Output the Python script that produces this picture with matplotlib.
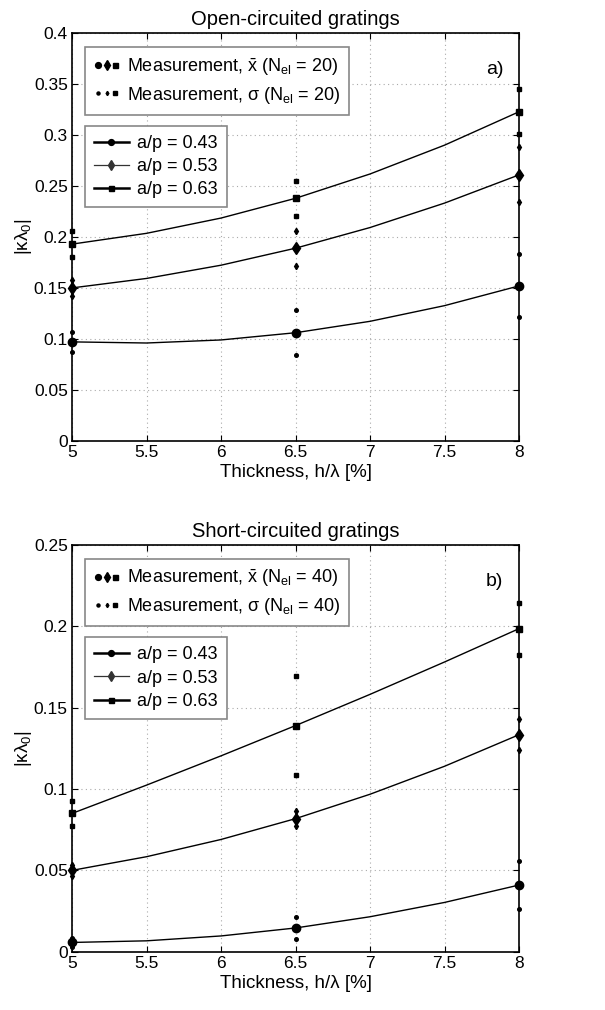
import numpy as np
import matplotlib
matplotlib.use('Agg')
import matplotlib.pyplot as plt
from matplotlib.lines import Line2D
from matplotlib.legend_handler import HandlerTuple
from matplotlib.ticker import FuncFormatter, MultipleLocator

plt.rcParams['font.family'] = ['Liberation Sans', 'DejaVu Sans']
plt.rcParams['mathtext.fontset'] = 'custom'
plt.rcParams['mathtext.rm'] = 'Liberation Sans'
plt.rcParams['mathtext.it'] = 'Liberation Sans:italic'

## Data

thickness = [5, 6.5, 8]          # h/lambda [%]
ratios = ['0.43', '0.53', '0.63']  # a/p

# Open-circuited, mean and sigma of the measurement
open_mean = {'0.43': [0.097, 0.106, 0.152],
             '0.53': [0.150, 0.189, 0.261],
             '0.63': [0.193, 0.238, 0.323]}
open_sigma = {'0.43': [0.010, 0.022, 0.031],
              '0.53': [0.008, 0.017, 0.027],
              '0.63': [0.013, 0.017, 0.022]}

# Short-circuited
short_mean = {'0.43': [0.0057, 0.0146, 0.041],
              '0.53': [0.050, 0.0818, 0.1334],
              '0.63': [0.085, 0.139, 0.1986]}
short_sigma = {'0.43': [0.003, 0.0068, 0.0145],
               '0.53': [0.0035, 0.0045, 0.0097],
               '0.63': [0.0078, 0.0305, 0.016]}

# Simulated curves, read at 0.5 % steps
curve_x = [5, 5.5, 6, 6.5, 7, 7.5, 8]
open_curve = {'0.43': [0.097, 0.0959, 0.0989, 0.106, 0.1172, 0.1326, 0.152],
              '0.53': [0.150, 0.1593, 0.1723, 0.189, 0.2093, 0.2333, 0.261],
              '0.63': [0.193, 0.2036, 0.2186, 0.238, 0.2619, 0.2902, 0.323]}
short_curve = {'0.43': [0.0057, 0.0067, 0.0097, 0.0146, 0.0215, 0.0303, 0.041],
               '0.53': [0.050, 0.0584, 0.069, 0.0818, 0.0968, 0.114, 0.1334],
               '0.63': [0.085, 0.1024, 0.1204, 0.139, 0.1582, 0.1781, 0.1986]}

markers = {'0.43': 'o', '0.53': 'd', '0.63': 's'}
big_size = {'0.43': 6, '0.53': 6.5, '0.63': 5}
small_size = {'0.43': 2.6, '0.53': 3.2, '0.63': 2.4}
leg_size = {'0.43': 4.2, '0.53': 4.8, '0.63': 3.6}
legend_lw = {'0.43': 1.8, '0.53': 0.9, '0.63': 1.8}
legend_col = {'0.43': 'black', '0.53': '#333333', '0.63': 'black'}


def fmt(v, pos):
    return '%g' % round(v, 4)


def panel(ax, means, sigmas, curves, title, ymax, ystep, tag, nel):
    for r in ratios:
        ax.plot(curve_x, curves[r], color='black', lw=1.0, zorder=2)
        m = np.array(means[r])
        s = np.array(sigmas[r])
        ax.plot(thickness, m, ls='none', marker=markers[r], ms=big_size[r],
                color='black', clip_on=False, zorder=4)
        ax.plot(thickness * 2, np.concatenate([m + s, m - s]), ls='none', marker=markers[r],
                ms=small_size[r], color='black', clip_on=False, zorder=4)

    ax.set_xlim(5, 8)
    ax.set_ylim(0, ymax)
    ax.xaxis.set_major_locator(MultipleLocator(0.5))
    ax.yaxis.set_major_locator(MultipleLocator(ystep))
    ax.xaxis.set_major_formatter(FuncFormatter(fmt))
    ax.yaxis.set_major_formatter(FuncFormatter(fmt))
    ax.tick_params(direction='in', top=True, right=True, labelsize=12.5, length=4, pad=3)
    ax.grid(True, ls=(0, (1, 3)), color='#aaaaaa', lw=0.8)
    for sp in ax.spines.values():
        sp.set_linewidth(1.2)
    ax.set_title(title, fontsize=14.5, pad=6)
    ax.set_xlabel('Thickness, h/λ [%]', fontsize=13.5, labelpad=3)
    ax.set_ylabel('|κλ$_0$|', fontsize=13.5, labelpad=0)
    ax.text(0.965, 0.91, tag, transform=ax.transAxes, ha='right', va='center', fontsize=14)

    # measurement legend
    big = tuple(Line2D([], [], ls='none', marker=markers[r], ms=leg_size[r], color='black')
                for r in ratios)
    small = tuple(Line2D([], [], ls='none', marker=markers[r], ms=2.2, color='black')
                  for r in ratios)
    leg1 = ax.legend([big, small],
                     [r'Measurement, $\bar{\mathrm{x}}$ (N$_{\mathrm{el}}$ = %d)' % nel,
                      'Measurement, σ (N$_{\\mathrm{el}}$ = %d)' % nel],
                     handler_map={tuple: HandlerTuple(ndivide=None, pad=0.0)},
                     loc='upper left', bbox_to_anchor=(0.028, 0.966), borderaxespad=0,
                     fontsize=13, handlelength=1.45, handletextpad=0.4, fancybox=False,
                     edgecolor='#888888', framealpha=1, borderpad=0.5, labelspacing=0.38)
    leg1.get_frame().set_linewidth(1.2)
    ax.add_artist(leg1)

    # model legend
    lines = [Line2D([], [], color=legend_col[r], lw=legend_lw[r], marker=markers[r],
                    ms=leg_size[r]) for r in ratios]
    leg2 = ax.legend(lines, ['a/p = ' + r for r in ratios],
                     loc='upper left', bbox_to_anchor=(0.028, 0.773), borderaxespad=0,
                     fontsize=13, handlelength=1.95, handletextpad=0.48, fancybox=False,
                     edgecolor='#888888', framealpha=1, borderpad=0.5, labelspacing=0.35)
    leg2.get_frame().set_linewidth(1.2)


fig = plt.figure(figsize=(6.05, 10.1), dpi=100)
ax1 = fig.add_axes([0.119, 0.5637, 0.739, 0.4033])
ax2 = fig.add_axes([0.119, 0.0577, 0.739, 0.4027])

panel(ax1, open_mean, open_sigma, open_curve, 'Open-circuited gratings', 0.4, 0.05, 'a)', 20)
panel(ax2, short_mean, short_sigma, short_curve, 'Short-circuited gratings', 0.25, 0.05, 'b)', 40)

fig.savefig('out.png', dpi=100)
